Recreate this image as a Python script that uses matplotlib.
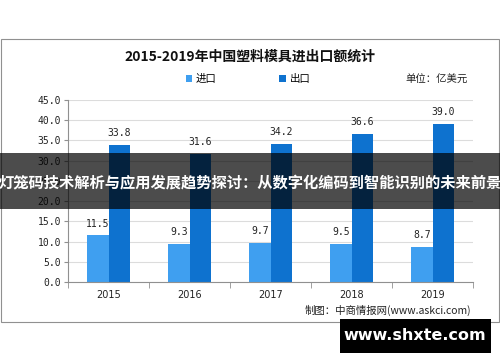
import matplotlib
matplotlib.use('Agg')
import matplotlib.pyplot as plt
from matplotlib.patches import Rectangle

plt.rcParams['font.family'] = ['Noto Sans CJK SC', 'DejaVu Sans']

# data
years = ['2015', '2016', '2017', '2018', '2019']
imports = [11.5, 9.3, 9.7, 9.5, 8.7]
exports = [33.8, 31.6, 34.2, 36.6, 39.0]
yticks = [0, 5, 10, 15, 20, 25, 30, 35, 40, 45]

c_imp = '#3f9ff0'
c_exp = '#0e72cf'

fig = plt.figure(figsize=(5, 3.62), dpi=100)
W, H = 500.0, 362.0

# outer frame
fig.patches.append(Rectangle((1 / W, 1 - 322 / H), 498 / W, 283 / H, transform=fig.transFigure,
                             fill=False, edgecolor='#909090', linewidth=0.8))

ax = fig.add_axes([68 / W, 1 - 282 / H, 405 / W, 182 / H])
x = list(range(len(years)))
bw = 0.26
b1 = ax.bar([i - bw / 2 for i in x], imports, bw, color=c_imp, label='进口')
b2 = ax.bar([i + bw / 2 for i in x], exports, bw, color=c_exp, label='出口')

for bars, vals in ((b1, imports), (b2, exports)):
	for b, v in zip(bars, vals):
		ax.annotate('%.1f' % v, (b.get_x() + b.get_width() / 2, v), xytext=(0, 5),
		            textcoords='offset points', ha='center', va='bottom',
		            fontsize=7, family='DejaVu Sans Mono', color='#222222')

ax.set_xlim(-0.5, 4.5)
ax.set_ylim(0, 45)
ax.set_yticks(yticks)
ax.set_yticklabels(['%.1f' % t for t in yticks], family='DejaVu Sans Mono', fontsize=7, color='#222222')
ax.set_xticks(x)
ax.set_xticklabels(years, fontsize=7, family='DejaVu Sans', color='#222222')
ax.set_xticks([i - 0.5 for i in range(6)], minor=True)
ax.tick_params(axis='x', which='major', length=0, pad=6)
ax.tick_params(axis='x', which='minor', length=4, color='#909090', direction='out')
ax.tick_params(axis='y', length=3, color='#909090', pad=2)
ax.grid(True, axis='y', color='#dcdcdc', linewidth=0.8)
ax.set_axisbelow(True)
for s in ('top', 'right'):
	ax.spines[s].set_visible(False)
for s in ('left', 'bottom'):
	ax.spines[s].set_color('#909090')
	ax.spines[s].set_linewidth(0.8)

# title, legend, units
fig.text(250 / W, 1 - 57 / H, '2015-2019年中国塑料模具进出口额统计', ha='center', va='center',
         fontsize=10, fontweight='bold', color='#111111')
fig.legend(handles=[b1, b2], loc='center', bbox_to_anchor=(248 / W, 1 - 79 / H), ncol=2,
           frameon=False, fontsize=7.5, handlelength=0.6, handleheight=0.6, columnspacing=6,
           handletextpad=0.4)
fig.text(468 / W, 1 - 80 / H, '单位：亿美元', ha='right', va='center', fontsize=7.5, color='#222222')
fig.text(471 / W, 1 - 310 / H, '制图：中商情报网(www.askci.com)', ha='right', va='center',
         fontsize=7.5, color='#222222')

# overlay banner
fig.patches.append(Rectangle((0, 1 - 209 / H), 1, 56 / H, transform=fig.transFigure,
                             facecolor='black', alpha=0.7, edgecolor='none', zorder=5))
fig.text(250 / W, 1 - 182 / H, '灯笼码技术解析与应用发展趋势探讨：从数字化编码到智能识别的未来前景',
         ha='center', va='center', fontsize=11, fontweight='bold', color='white', zorder=6)

# site badge
fig.patches.append(Rectangle((340 / W, 1 - 353 / H), 151 / W, 34 / H, transform=fig.transFigure,
                             facecolor='black', edgecolor='none', zorder=5))
fig.text(415 / W, 1 - 336 / H, 'www.shxte.com', ha='center', va='center', fontsize=11.5,
         fontweight='bold', color='white', family='DejaVu Sans', zorder=6)

fig.savefig('out.png', dpi=100)
